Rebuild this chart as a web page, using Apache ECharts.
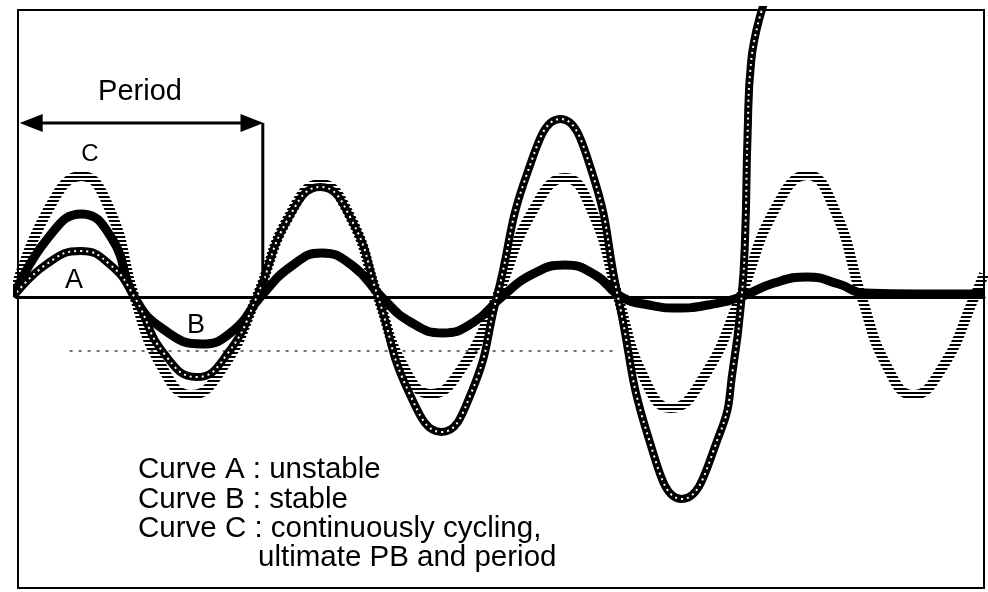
<!DOCTYPE html>
<html lang="en">
<head>
<meta charset="UTF-8">
<script src="https://cdn.jsdelivr.net/npm/echarts@6/dist/echarts.min.js"></script>
<style>
    html, body { margin: 0; padding: 0; background: #fff; }
    #chart { width: 988px; height: 592px; }
</style>
</head>
<body>
<div id="chart"></div>
<script>
// x: time in half-periods of curve C, y: response above the set point
const curveA = [
    [-0.04, 0], [0.24, 3.3], [0.52, 4.6], [0.77, 3.2], [0.97, 0],
    [1.22, -5.7], [1.49, -8.0], [1.75, -5.6], [1.99, 0],
    [2.25, 7.8], [2.52, 11.0], [2.78, 7.7], [3.0, 0],
    [3.26, -9.6], [3.53, -13.5], [3.78, -9.5], [3.99, 0],
    [4.25, 12.6], [4.52, 17.8], [4.78, 12.6], [5.0, 0],
    [5.26, -14.3], [5.53, -20.2], [5.85, -13.6], [5.96, -7.0],
    [6.03, 0], [6.06, 6.3], [6.08, 16.3], [6.11, 23.6], [6.22, 29.5]
];
const curveB = [
    [-0.04, 0], [0.25, 5.9], [0.53, 8.3], [0.78, 5.9], [0.97, 0],
    [1.22, -3.3], [1.53, -4.7], [1.8, -3.3], [2.02, 0],
    [2.28, 3.1], [2.53, 4.4], [2.79, 3.1], [3.03, 0],
    [3.27, -2.5], [3.54, -3.6], [3.8, -2.5], [4.03, 0],
    [4.29, 2.3], [4.56, 3.2], [4.81, 2.2], [5.03, 0],
    [5.26, -0.8], [5.49, -1.1], [5.75, -0.8], [6.02, 0],
    [6.3, 1.4], [6.58, 2.0], [6.84, 1.3], [7.05, 0.4], [7.5, 0.3], [8.05, 0.3]
];
const curveC = [
    [-0.04, 0], [0.25, 8.7], [0.53, 12.1], [0.77, 8.6], [0.97, 0],
    [1.2, -7.0], [1.44, -9.8], [1.71, -7.0], [1.99, 0],
    [2.25, 7.9], [2.52, 11.3], [2.77, 8.0], [3.0, 0],
    [3.21, -6.9], [3.44, -9.7], [3.71, -6.9], [3.99, 0],
    [4.28, 8.4], [4.56, 11.9], [4.79, 8.4], [5.0, 0],
    [5.21, -7.9], [5.44, -11.1], [5.72, -7.9], [6.02, 0],
    [6.3, 8.6], [6.58, 12.2], [6.81, 8.6], [7.03, 0],
    [7.24, -6.9], [7.46, -9.8], [7.71, -6.9], [7.97, 0], [8.05, 2.3]
];
const dottedRef = [[0.43, -5.4], [4.98, -5.4]];
const periodArrow = [[0.11, 17.4], [1.95, 17.4]];
const periodDrop = [[2.04, 17.4], [2.04, 0]];

const periodLabel = 'Period';
const curveNames = ['A', 'B', 'C'];
const legendLines = [
    'Curve A : unstable',
    'Curve B : stable',
    'Curve C : continuously cycling,',
    'ultimate PB and period'
];

const FONT = '"Liberation Sans", Arial, Helvetica, sans-serif';

// horizontal stripes, like the hatched trace in the scan
function hatch() {
    const c = document.createElement('canvas');
    c.width = 4;
    c.height = 4;
    const g = c.getContext('2d');
    g.fillStyle = '#000';
    g.fillRect(0, 0, 4, 2);
    return c;
}

function txt(text, x, y, size, align) {
    return {
        type: 'text',
        x: x,
        y: y,
        silent: true,
        z: 100,
        style: {
            text: text,
            font: size + 'px ' + FONT,
            fill: '#000',
            textAlign: align || 'left',
            textVerticalAlign: 'middle'
        }
    };
}

const chart = echarts.init(document.getElementById('chart'));

const legendX = [138, 138, 138, 258];
const legendY = [470, 500, 529, 558];

chart.setOption({
    animation: false,
    backgroundColor: '#fff',
    grid: {
        left: 18, top: 10, right: 4, bottom: 4,
        show: true,
        borderColor: '#000',
        borderWidth: 2,
        backgroundColor: 'transparent'
    },
    xAxis: {
        type: 'value',
        min: 0,
        max: 8.05,
        axisLine: { show: true, onZero: true, lineStyle: { color: '#000', width: 3 } },
        axisTick: { show: false },
        axisLabel: { show: false },
        splitLine: { show: false }
    },
    yAxis: {
        type: 'value',
        min: -29.1,
        max: 28.7,
        show: false,
        splitLine: { show: false }
    },
    series: [
        {
            type: 'line',
            data: dottedRef,
            symbol: 'none',
            silent: true,
            lineStyle: { color: '#444', width: 1.5, type: [3, 6] }
        },
        {
            type: 'line',
            data: curveC,
            smooth: 0.5,
            symbol: 'none',
            silent: true,
            lineStyle: { width: 10, color: { image: hatch(), repeat: 'repeat' } }
        },
        {
            type: 'line',
            data: curveB,
            smooth: 0.5,
            symbol: 'none',
            silent: true,
            lineStyle: { width: 9, color: '#000' }
        },
        {
            type: 'line',
            data: curveA,
            smooth: 0.5,
            symbol: 'none',
            silent: true,
            lineStyle: { width: 8, color: '#000' }
        },
        {
            // speckled core of the unstable trace
            type: 'line',
            data: curveA,
            smooth: 0.5,
            symbol: 'none',
            silent: true,
            lineStyle: { width: 2, color: '#fff', type: [2, 4] }
        },
        {
            type: 'line',
            data: periodDrop,
            symbol: 'none',
            silent: true,
            lineStyle: { width: 3, color: '#000' }
        },
        {
            type: 'line',
            data: periodArrow,
            symbol: 'none',
            silent: true,
            lineStyle: { width: 3, color: '#000' }
        },
        {
            // arrow heads at both ends of the period bar
            type: 'scatter',
            silent: true,
            symbol: 'triangle',
            symbolSize: [18, 23],
            itemStyle: { color: '#000', opacity: 1 },
            data: periodArrow.map(function (p, i) {
                return { value: p, symbolRotate: i === 0 ? 90 : -90 };
            })
        }
    ],
    graphic: [
        txt(periodLabel, 140, 92, 29, 'center'),
        txt(curveNames[2], 90, 154, 24, 'center'),
        txt(curveNames[0], 74, 281, 27, 'center'),
        txt(curveNames[1], 196, 326, 27, 'center')
    ].concat(legendLines.map(function (line, i) {
        return txt(line, legendX[i], legendY[i], 29.5, 'left');
    }))
});
</script>
</body>
</html>
